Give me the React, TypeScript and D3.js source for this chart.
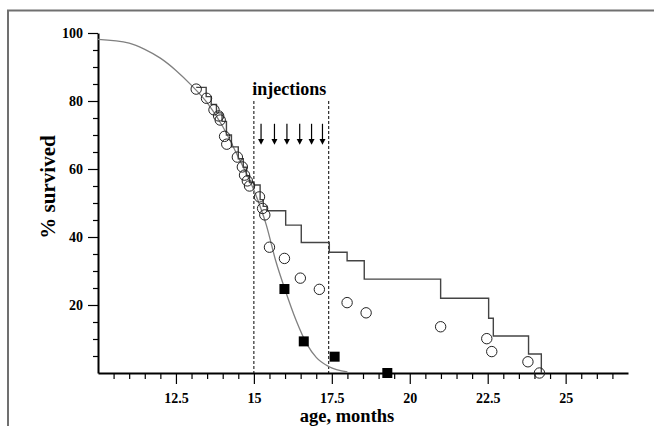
import React, { useEffect, useRef } from 'react';
import * as d3 from 'd3';

// fitted survival curve (grey)
const fitAge = [10, 11, 11.5, 12, 12.5, 13, 13.5, 14, 14.5, 15, 15.4, 15.7, 16, 16.35, 16.7, 17, 17.4, 18];
const fitSurv = [98.1, 97.0, 95.2, 92.6, 89, 84.6, 79.5, 72.5, 63.5, 53.8, 43.5, 33, 24.5, 15.6, 8.5, 4.6, 1.9, 0.3];

// open circles
const circleAge = [13.15, 13.48, 13.72, 13.87, 13.92, 14.06, 14.13, 14.47, 14.63, 14.7, 14.79, 14.86, 15.18, 15.28, 15.35,
  15.5, 15.98, 16.49, 17.1, 17.99, 18.6, 20.99, 22.47, 22.63, 23.79, 24.16];
const circleSurv = [83.5, 80.8, 77.4, 75.6, 74.4, 69.6, 67.3, 63.5, 60.6, 58.2, 56.5, 55.0, 51.8, 48.4, 46.5,
  37.0, 33.7, 27.9, 24.6, 20.7, 17.7, 13.6, 10.1, 6.3, 3.3, 0];

// step line (treated group)
const stepAge = [13.15, 13.47, 13.63, 13.8, 13.98, 14.12, 14.28, 14.5, 14.66, 14.76, 14.86, 15.0, 15.2, 15.3, 15.42,
  16.02, 16.52, 17.42, 17.99, 18.54, 20.99, 22.53, 22.68, 23.81, 24.22];
const stepSurv = [84, 81.3, 79, 76.5, 74, 70, 66.5, 63, 60.5, 58, 56, 55.3, 51, 49, 47.7,
  43.5, 38.4, 35.5, 33, 27.6, 22, 16.1, 10.9, 5.6, 0];

// filled squares
const squareAge = [15.98, 16.6, 17.59, 19.28];
const squareSurv = [24.7, 9.3, 4.8, 0];

// injection times
const injections = [15.23, 15.66, 16.06, 16.47, 16.85, 17.2];
const injectionWindow = [15, 17.4];

const xMajor = [12.5, 15, 17.5, 20, 22.5, 25];
const yMajor = [20, 40, 60, 80, 100];

const W = 654;
const H = 426;
const FONT = '"Liberation Serif", "Times New Roman", serif';

export default function App() {
  const svgRef = useRef<SVGSVGElement>(null);

  useEffect(() => {
    const svg = d3.select(svgRef.current);
    svg.selectAll('*').remove();

    const x = d3.scaleLinear().domain([10, 27]).range([98, 628]);
    const y = d3.scaleLinear().domain([0, 100]).range([373, 33]);

    // outer frame of the figure
    svg.append('rect')
      .attr('x', 8).attr('y', 10.5).attr('width', 700).attr('height', 500)
      .attr('fill', 'none').attr('stroke', '#707070').attr('stroke-width', 2);

    // x axis
    const xMinor = d3.range(10.5, 27, 0.5).filter(v => !xMajor.includes(v));
    const gx = svg.append('g').attr('transform', `translate(0,${y(0)})`);
    gx.call(d3.axisBottom(x).tickValues(xMinor).tickSize(6).tickSizeOuter(0).tickFormat(() => ''));
    gx.append('g').call(d3.axisBottom(x).tickValues(xMajor).tickSize(11).tickSizeOuter(0).tickPadding(9)
      .tickFormat(d => String(d)))
      .select('.domain').remove();

    // y axis
    const yMinor = d3.range(5, 100, 5).filter(v => !yMajor.includes(v));
    const gy = svg.append('g').attr('transform', `translate(${x(10)},0)`);
    gy.call(d3.axisLeft(y).tickValues(yMinor).tickSize(5).tickSizeOuter(0).tickFormat(() => ''));
    gy.append('g').call(d3.axisLeft(y).tickValues(yMajor).tickSize(10).tickSizeOuter(0).tickPadding(5)
      .tickFormat(d => String(d)))
      .select('.domain').remove();

    svg.selectAll('.domain').attr('stroke', '#000').attr('stroke-width', 2);
    svg.selectAll('.tick line').attr('stroke', '#000').attr('stroke-width', 1.2);
    svg.selectAll('.tick text')
      .attr('font-family', FONT).attr('font-size', 14).attr('font-weight', 'bold').attr('fill', '#000');

    // axis titles
    svg.append('text')
      .attr('transform', `translate(55,187) rotate(-90)`)
      .attr('text-anchor', 'middle')
      .attr('font-family', FONT).attr('font-size', 21).attr('font-weight', 'bold')
      .text('% survived');
    svg.append('text')
      .attr('x', 347).attr('y', 422)
      .attr('text-anchor', 'middle')
      .attr('font-family', FONT).attr('font-size', 18.5).attr('font-weight', 'bold')
      .text('age, months');

    // injection window
    svg.selectAll('.win').data(injectionWindow).join('line')
      .attr('x1', d => x(d)).attr('x2', d => x(d))
      .attr('y1', y(80)).attr('y2', y(0))
      .attr('stroke', '#000').attr('stroke-width', 1).attr('stroke-dasharray', '3,2');
    svg.append('text')
      .attr('x', (x(injectionWindow[0]) + x(injectionWindow[1])) / 2 - 2).attr('y', y(81.7))
      .attr('text-anchor', 'middle')
      .attr('font-family', FONT).attr('font-size', 18).attr('font-weight', 'bold')
      .text('injections');

    const arrows = svg.append('g');
    injections.forEach(t => {
      arrows.append('line')
        .attr('x1', x(t)).attr('x2', x(t)).attr('y1', y(73.3)).attr('y2', y(68.5))
        .attr('stroke', '#000').attr('stroke-width', 1.2);
      arrows.append('path')
        .attr('d', `M${x(t) - 3},${y(68.8)} L${x(t) + 3},${y(68.8)} L${x(t)},${y(67.1)} Z`)
        .attr('fill', '#000');
    });

    // fitted curve
    const fitLine = d3.line<number>()
      .x((_, i) => x(fitAge[i]))
      .y(d => y(d))
      .curve(d3.curveMonotoneX);
    svg.append('path').attr('d', fitLine(fitSurv))
      .attr('fill', 'none').attr('stroke', '#808080').attr('stroke-width', 1.3);

    // step line
    const stepLine = d3.line<number>()
      .x((_, i) => x(stepAge[i]))
      .y(d => y(d))
      .curve(d3.curveStepAfter);
    svg.append('path').attr('d', stepLine(stepSurv))
      .attr('fill', 'none').attr('stroke', '#444').attr('stroke-width', 1.4);

    // circles
    svg.append('g').selectAll('circle').data(circleSurv).join('circle')
      .attr('cx', (_, i) => x(circleAge[i])).attr('cy', d => y(d))
      .attr('r', 5.2)
      .attr('fill', 'none').attr('stroke', '#222').attr('stroke-width', 1);

    // squares
    svg.append('g').selectAll('rect').data(squareSurv).join('rect')
      .attr('x', (_, i) => x(squareAge[i]) - 5).attr('y', d => y(d) - 5)
      .attr('width', 10).attr('height', 10)
      .attr('fill', '#000');
  }, []);

  return (
    <svg ref={svgRef} width={W} height={H}
      style={{ position: 'absolute', left: 0, top: 0, background: '#fff' }} />
  );
}
